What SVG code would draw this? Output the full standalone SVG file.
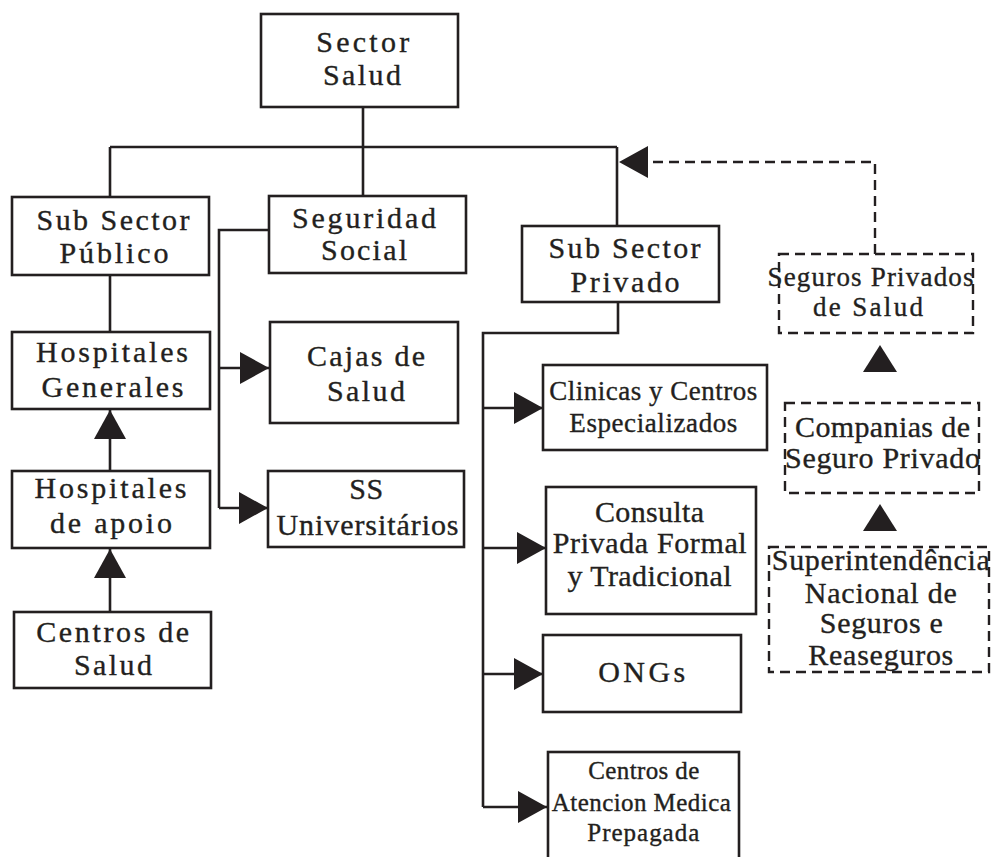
<svg xmlns="http://www.w3.org/2000/svg" width="992" height="857" viewBox="0 0 992 857">
<style>
.box{fill:#fff;stroke:#231f20;stroke-width:2.6}
.dbox{fill:#fff;stroke:#231f20;stroke-width:2.4;stroke-dasharray:10 6}
.ln{fill:none;stroke:#231f20;stroke-width:2.6}
.dln{fill:none;stroke:#231f20;stroke-width:2.4;stroke-dasharray:10 6}
.tri{fill:#231f20}
text{font-family:"Liberation Serif","Times New Roman",serif;fill:#231f20;stroke:#231f20;stroke-width:0.35;text-anchor:middle;font-size:30px}
.s{font-size:27px}
.xs{font-size:25px}
.m{font-size:27px}
</style>
<defs>
<marker id="ah" markerUnits="userSpaceOnUse" markerWidth="30" markerHeight="32" refX="29" refY="16" orient="auto">
<path d="M0,0 L29,16 L0,32 Z" fill="#231f20"/>
</marker>
</defs>
<rect width="992" height="857" fill="#fff"/>
<g id="connectors">
<path class="ln" d="M363,107 V147 M110,147 H617 M110,147 V197 M363,147 V196 M617,147 V226"/>
<path class="ln" d="M110,275 V332"/>
<path class="ln" d="M110,471 V410" marker-end="url(#ah)"/>
<path class="ln" d="M110,612 V549" marker-end="url(#ah)"/>
<path class="ln" d="M269,230 H219 V508"/>
<path class="ln" d="M219,368 H269" marker-end="url(#ah)"/>
<path class="ln" d="M219,508 H268" marker-end="url(#ah)"/>
<path class="ln" d="M618,302 V333 H483 V807"/>
<path class="ln" d="M483,408 H543" marker-end="url(#ah)"/>
<path class="ln" d="M483,548 H546" marker-end="url(#ah)"/>
<path class="ln" d="M483,674 H543" marker-end="url(#ah)"/>
<path class="ln" d="M483,807 H547" marker-end="url(#ah)"/>
<path class="dln" d="M875,254 V162 H646"/>
<polygon class="tri" points="619,162 648,146 648,178"/>
<polygon class="tri" points="880,345 863,372 897,372"/>
<polygon class="tri" points="880,504 863,531 897,531"/>
</g>
<g id="sector-salud">
<rect class="box" x="261" y="14" width="197" height="93"/>
<text x="362.7" y="52" textLength="93" lengthAdjust="spacing">Sector</text>
<text x="362" y="85" textLength="78" lengthAdjust="spacing">Salud</text>
</g>
<g id="sub-sector-publico">
<rect class="box" x="12" y="197" width="197" height="78"/>
<text x="113" y="230" textLength="153" lengthAdjust="spacing">Sub Sector</text>
<text x="114" y="263" textLength="109" lengthAdjust="spacing">Público</text>
</g>
<g id="seguridad-social">
<rect class="box" x="269" y="196" width="197" height="77"/>
<text x="364" y="228" textLength="144" lengthAdjust="spacing">Seguridad</text>
<text x="364" y="260" textLength="86" lengthAdjust="spacing">Social</text>
</g>
<g id="sub-sector-privado">
<rect class="box" x="522" y="226" width="197" height="76"/>
<text x="624.5" y="258" textLength="152" lengthAdjust="spacing">Sub Sector</text>
<text x="625" y="292" textLength="109" lengthAdjust="spacing">Privado</text>
</g>
<g id="hospitales-generales">
<rect class="box" x="12" y="332" width="198" height="77"/>
<text x="112" y="362" textLength="152" lengthAdjust="spacing">Hospitales</text>
<text x="112.5" y="397" textLength="142" lengthAdjust="spacing">Generales</text>
</g>
<g id="hospitales-apoio">
<rect class="box" x="12" y="471" width="198" height="77"/>
<text x="110.5" y="498" textLength="152" lengthAdjust="spacing">Hospitales</text>
<text x="111" y="533" textLength="122" lengthAdjust="spacing">de apoio</text>
</g>
<g id="centros-salud">
<rect class="box" x="14" y="612" width="197" height="76"/>
<text x="112.7" y="642" textLength="153" lengthAdjust="spacing">Centros de</text>
<text x="113" y="675" textLength="78" lengthAdjust="spacing">Salud</text>
</g>
<g id="cajas-salud">
<rect class="box" x="270" y="322" width="188" height="101"/>
<text x="366" y="366" textLength="118" lengthAdjust="spacing">Cajas de</text>
<text x="366" y="401" textLength="78" lengthAdjust="spacing">Salud</text>
</g>
<g id="ss-universitarios">
<rect class="box" x="268" y="471" width="196" height="76"/>
<text x="366.3" y="499" textLength="34" lengthAdjust="spacing">SS</text>
<text x="367.5" y="535" textLength="182" lengthAdjust="spacing">Universitários</text>
</g>
<g id="clinicas">
<rect class="box" x="543" y="365" width="224" height="85"/>
<text class="s" x="653.3" y="400" textLength="208" lengthAdjust="spacing">Clinicas y Centros</text>
<text class="s" x="653.3" y="432" textLength="168" lengthAdjust="spacing">Especializados</text>
</g>
<g id="consulta-privada">
<rect class="box" x="546" y="487" width="210" height="127"/>
<text x="649.5" y="522" textLength="109" lengthAdjust="spacing">Consulta</text>
<text x="649.7" y="553" textLength="194" lengthAdjust="spacing">Privada Formal</text>
<text x="649.5" y="586" textLength="164" lengthAdjust="spacing">y Tradicional</text>
</g>
<g id="ongs">
<rect class="box" x="543" y="635" width="198" height="77"/>
<text x="641.7" y="682" textLength="87" lengthAdjust="spacing">ONGs</text>
</g>
<g id="centros-atencion">
<rect class="box" x="548" y="752" width="191" height="120"/>
<text class="xs" x="643.8" y="779" textLength="111" lengthAdjust="spacing">Centros de</text>
<text class="xs" x="641.3" y="811" textLength="179" lengthAdjust="spacing">Atencion Medica</text>
<text class="xs" x="643.3" y="841" textLength="112" lengthAdjust="spacing">Prepagada</text>
</g>
<g id="seguros-privados">
<rect class="dbox" x="779" y="254" width="194" height="79"/>
<text class="m" x="870.5" y="286" textLength="206" lengthAdjust="spacing">Seguros Privados</text>
<text class="m" x="868" y="316" textLength="110" lengthAdjust="spacing">de Salud</text>
</g>
<g id="companias-seguro">
<rect class="dbox" x="785" y="403" width="194" height="90"/>
<text x="882.5" y="437" textLength="175" lengthAdjust="spacing">Companias de</text>
<text x="882.5" y="468" textLength="195" lengthAdjust="spacing">Seguro Privado</text>
</g>
<g id="superintendencia">
<rect class="dbox" x="769" y="547" width="220" height="125"/>
<text x="880.8" y="570" textLength="218" lengthAdjust="spacing">Superintendência</text>
<text x="880.8" y="603" textLength="152" lengthAdjust="spacing">Nacional de</text>
<text x="881.3" y="633" textLength="123" lengthAdjust="spacing">Seguros e</text>
<text x="880.8" y="665" textLength="145" lengthAdjust="spacing">Reaseguros</text>
</g>
</svg>
